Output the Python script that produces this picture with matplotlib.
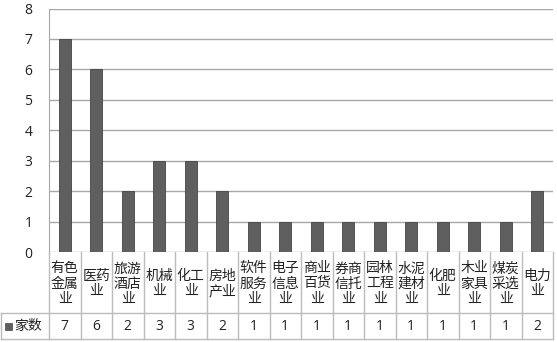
import numpy as np
import matplotlib.pyplot as plt
from matplotlib.lines import Line2D
from matplotlib.patches import Rectangle
from matplotlib.transforms import blended_transform_factory

plt.rcParams['font.family'] = ['Noto Sans CJK SC', 'DejaVu Sans']

# 数据
categories = ["有色金属业", "医药业", "旅游酒店业", "机械业", "化工业", "房地产业",
              "软件服务业", "电子信息业", "商业百货业", "券商信托业", "园林工程业",
              "水泥建材业", "化肥业", "木业家具业", "煤炭采选业", "电力业"]
values = [7, 6, 2, 3, 3, 2, 1, 1, 1, 1, 1, 1, 1, 1, 1, 2]
series_name = "家数"


def wrap(s, n=2):
    return "\n".join(s[i:i + n] for i in range(0, len(s), n))


W, H = 557, 342
fig = plt.figure(figsize=(W / 100, H / 100), dpi=100)

left, right, top, bottom = 49, 553, 8.5, 252
ax = fig.add_axes([left / W, 1 - bottom / H, (right - left) / W, (bottom - top) / H])

n = len(categories)
x = np.arange(n)
ax.bar(x, values, width=0.38, color="#5f5f5f", edgecolor="#444444", linewidth=0.6, zorder=3)

ax.set_xlim(-0.5, n - 0.5)
ax.set_ylim(0, 8)
ax.set_yticks(range(0, 9))
ax.tick_params(axis="y", length=0, pad=12, labelsize=10, labelcolor="#222222")
for lab in ax.get_yticklabels():
    lab.set_family(["Open Sans", "DejaVu Sans"])
ax.set_xticks([])
ax.yaxis.grid(True, color="#a8a8a8", linewidth=1.0, zorder=0)
for s in ["top", "right", "bottom"]:
    ax.spines[s].set_visible(False)
ax.spines["left"].set_color("#a8a8a8")

# 数据表
tr = blended_transform_factory(ax.transData, fig.transFigure)
fy = lambda yp: 1 - yp / H
fx = lambda xp: xp / W
row1, row2 = 313, 339
line_c = "#bcbcbc"

# 竖线
for k in range(n + 1):
    fig.add_artist(Line2D([k - 0.5, k - 0.5], [fy(bottom), fy(row2)], transform=tr,
                          color=line_c, linewidth=1.0))
# 横线
fig.add_artist(Line2D([fx(1), fx(right)], [fy(row1), fy(row1)], transform=fig.transFigure,
                      color=line_c, linewidth=1.0))
fig.add_artist(Line2D([fx(1), fx(right)], [fy(row2), fy(row2)], transform=fig.transFigure,
                      color=line_c, linewidth=1.0))
fig.add_artist(Line2D([fx(1), fx(1)], [fy(row1), fy(row2)], transform=fig.transFigure,
                      color=line_c, linewidth=1.0))

# 类别标签
for i, c in enumerate(categories):
    fig.text(i, fy((bottom + row1) / 2 + 1), wrap(c), transform=tr, ha="center", va="center",
             fontsize=10, color="#222222", linespacing=1.1)

# 数值
for i, v in enumerate(values):
    fig.text(i, fy((row1 + row2) / 2), str(v), transform=tr, ha="center", va="center",
             fontsize=10, color="#222222", family=["Open Sans", "DejaVu Sans"])

# 图例
fig.add_artist(Rectangle((fx(5), fy(330)), 7 / W, 7 / H, transform=fig.transFigure,
                         facecolor="#5f5f5f", edgecolor="#444444", linewidth=0.5))
fig.text(fx(14), fy((row1 + row2) / 2), series_name, ha="left", va="center",
         fontsize=10, color="#222222")

fig.savefig("out.png", dpi=100)
